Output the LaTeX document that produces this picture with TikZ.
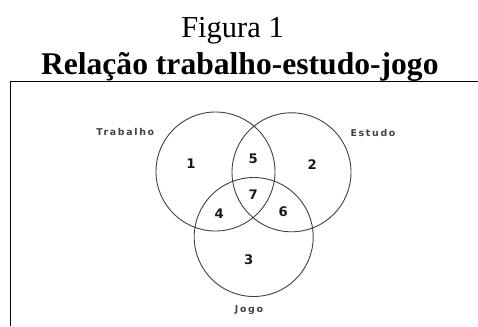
\documentclass[tikz,border=0pt]{standalone}
\usepackage{fontspec}
\setmainfont{Liberation Serif}
\newfontfamily\lblfont[LetterSpace=18]{DejaVu Sans}
\newfontfamily\numfont{DejaVu Sans}
\begin{document}
\begin{tikzpicture}[x=1pt,y=-1pt,
  setcircle/.style={draw=black!75, line width=0.9pt, circle, minimum size=119pt, inner sep=0pt},
  setlabel/.style={anchor=base, inner sep=0pt, text=black!75, font=\lblfont\bfseries\fontsize{9.4}{11}\selectfont},
  regionnum/.style={inner sep=0pt, text=black!90, font=\numfont\bfseries\fontsize{13.2}{15}\selectfont},
  titlebox/.style={anchor=base, inner sep=0pt}]
\useasboundingbox (0,0) rectangle (478,326);
% titles
\node[titlebox, font=\fontsize{30.5}{36}\selectfont] (fig) at (232.5,37.7) {Figura 1};
\node[titlebox, font=\bfseries\fontsize{31.6}{36}\selectfont] (title) at (239.8,75) {Relação trabalho-estudo-jogo};
% frame
\coordinate (fa) at (10,326);
\coordinate (fb) at (10,82);
\coordinate (fc) at (478,82);
\draw[line width=1pt] (fa) -- (fb) -- (fc);
% circles
\node[setcircle] (trab) at (215.5,171.5) {};
\node[setcircle] (estu) at (291.5,172.3) {};
\node[setcircle] (jogo) at (253.7,237) {};
% labels
\node[setlabel] (ltrab) at (125.3,135) {Trabalho};
\node[setlabel] (lestu) at (373,136.7) {Estudo};
\node[setlabel] (ljogo) at (249,312.5) {Jogo};
% numbers
\node[regionnum] (n1) at (191,163.3) {1};
\node[regionnum] (n2) at (312.3,164.3) {2};
\node[regionnum] (n3) at (248.7,260) {3};
\node[regionnum] (n4) at (219.3,213.3) {4};
\node[regionnum] (n5) at (253.3,158.3) {5};
\node[regionnum] (n6) at (283.3,211.7) {6};
\node[regionnum] (n7) at (253.3,195) {7};
\end{tikzpicture}
\end{document}
